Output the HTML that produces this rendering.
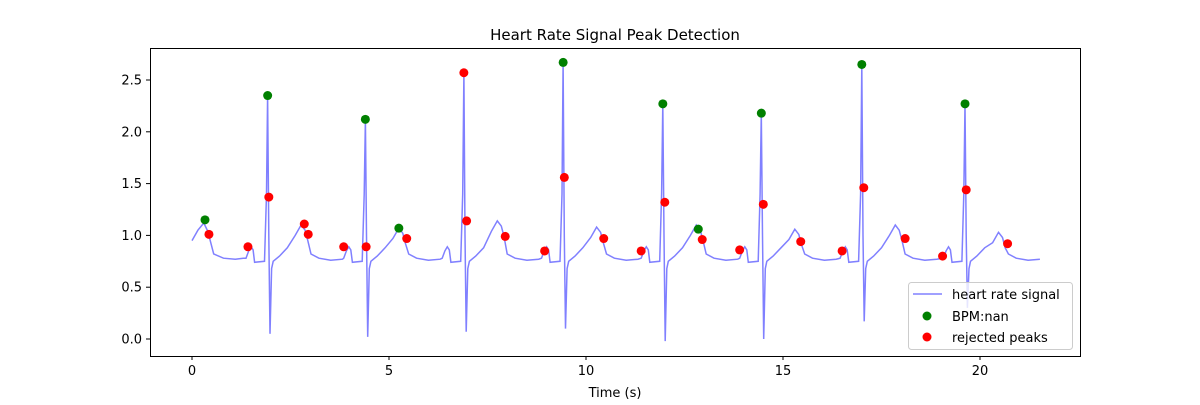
<!DOCTYPE html>
<html><head><meta charset="utf-8"><style>
body{margin:0;background:#fff}
svg text{font-family:"DejaVu Sans","Liberation Sans",sans-serif;fill:#000}
</style></head><body>
<svg id="chart" width="1200" height="400" xmlns="http://www.w3.org/2000/svg">
<rect width="1200" height="400" fill="#fff"/>
<text x="615" y="40" font-size="15" text-anchor="middle">Heart Rate Signal Peak Detection</text>
<g id="plot"></g>
<rect x="150.5" y="48.5" width="930" height="308" fill="none" stroke="#000" stroke-width="1"/>
<g id="axes"></g>
<text x="615" y="397" font-size="13" text-anchor="middle">Time (s)</text>
<g>
<rect x="908.5" y="282.5" width="164" height="67" rx="3" fill="#fff" fill-opacity="0.8" stroke="#ccc"/>
<line x1="913" y1="294" x2="942" y2="294" stroke="#8080ff" stroke-width="1.5"/>
<text x="952" y="299" font-size="13">heart rate signal</text>
<circle cx="927" cy="316" r="4.5" fill="#008000"/>
<text x="952" y="321" font-size="13">BPM:nan</text>
<circle cx="927" cy="337" r="4.5" fill="#ff0000"/>
<text x="952" y="342" font-size="13">rejected peaks</text>
</g>
</svg>
<script>
const rTimes=[1.92,4.40,6.90,9.42,11.95,14.45,17.0,19.62];
const rPeaks=[2.35,2.12,2.57,2.67,2.27,2.18,2.65,2.27];
const rTroughs=[0.05,0.02,0.07,0.1,-0.02,0.0,0.17,0.3];
const tWaves=[1.10,1.07,1.14,1.08,1.10,1.06,1.10,1.03];
const startT=[0,0.15,0.3,0.4,0.55,0.8,1.1,1.3];
const startV=[0.95,1.05,1.12,1.04,0.82,0.78,0.77,0.78];
const endT=[21.3,21.5];const endV=[0.72,0.73];
const okT=[0.33,1.92,4.40,5.25,9.42,11.95,12.85,14.45,17.0,19.62];
const okV=[1.15,2.35,2.12,1.07,2.67,2.27,1.06,2.18,2.65,2.27];
const rejT=[0.43,1.42,1.95,2.85,2.95,3.85,4.42,5.45,6.90,6.97,7.95,8.95,9.45,10.45,11.4,12.0,12.95,13.9,14.5,15.45,16.5,17.05,18.1,19.05,19.65,20.7];
const rejV=[1.01,0.89,1.37,1.11,1.01,0.89,0.89,0.97,2.57,1.14,0.99,0.85,1.56,0.97,0.85,1.32,0.96,0.86,1.30,0.94,0.85,1.46,0.97,0.80,1.44,0.92];
const xTicks=[0,5,10,15,20];
const yTicks=[0,0.5,1.0,1.5,2.0,2.5];
const X=t=>192+39.4*t, Y=v=>339-103.6*v;
const NS="http://www.w3.org/2000/svg";
const plot=document.getElementById('plot'),axes=document.getElementById('axes');
function mk(tag,attrs,parent){const e=document.createElementNS(NS,tag);for(const k in attrs)e.setAttribute(k,attrs[k]);parent.appendChild(e);return e;}
// build signal
let pts=[];
for(let i=0;i<startT.length;i++)pts.push([startT[i],startV[i]]);
for(let i=0;i<rTimes.length;i++){
 const r=rTimes[i],tw=tWaves[i];
 const seg=[[-0.55,0.78],[-0.48,0.85],[-0.42,0.89],[-0.37,0.86],[-0.33,0.74],[-0.08,0.75],[-0.03,1.4],[0,rPeaks[i]],[0.03,1.0],[0.06,rTroughs[i]],[0.1,0.68],[0.14,0.75],[0.3,0.80],[0.5,0.88],[0.7,tw-0.1],[0.85,tw],[0.95,tw-0.05],[1.02,tw-0.15],[1.1,0.82],[1.3,0.78],[1.6,0.76],[1.9,0.77]];
 for(const s of seg){const t=r+s[0];if(t>pts[pts.length-1][0])pts.push([t,s[1]]);}
}
for(let i=0;i<endT.length;i++)if(endT[i]>pts[pts.length-1][0])pts.push([endT[i],endV[i]]);
const line=mk('polyline',{points:pts.map(p=>X(p[0]).toFixed(1)+','+Y(p[1]).toFixed(1)).join(' '),fill:'none',stroke:'#8080ff','stroke-width':1.5},plot);


for(let i=0;i<okT.length;i++){const c=mk('circle',{cx:X(okT[i]),cy:Y(okV[i]),r:4.5,fill:'#008000'},plot);

}
for(let i=0;i<rejT.length;i++){const c=mk('circle',{cx:X(rejT[i]),cy:Y(rejV[i]),r:4.5,fill:'#ff0000'},plot);

}
for(const t of xTicks){const x=X(t);mk('line',{x1:x,y1:356,x2:x,y2:360,stroke:'#000'},axes);
const tx=mk('text',{x:x,y:375,'font-size':13,'text-anchor':'middle'},axes);tx.textContent=t;

}
for(const v of yTicks){const y=Y(v);mk('line',{x1:146,y1:y,x2:150,y2:y,stroke:'#000'},axes);
const tx=mk('text',{x:142,y:y+4.5,'font-size':13,'text-anchor':'end'},axes);tx.textContent=v.toFixed(1);

}
</script>
</body></html>
